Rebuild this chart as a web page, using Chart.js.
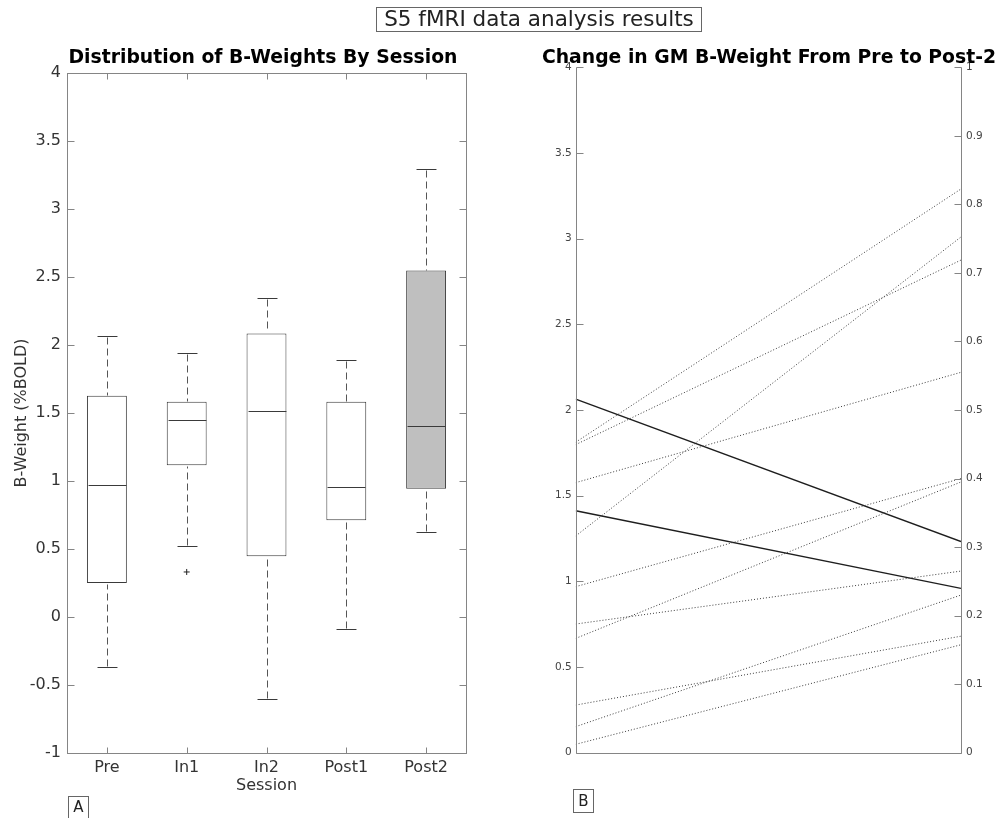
<!DOCTYPE html>
<html>
<head>
<meta charset="utf-8">
<title>S5 fMRI data analysis results</title>
<script src="https://cdn.jsdelivr.net/npm/chart.js@4/dist/chart.umd.min.js"></script>
<style>
  html, body { margin: 0; padding: 0; background: #fff; }
  #page { position: relative; width: 1000px; height: 818px; overflow: hidden; background: #fff;
          font-family: 'DejaVu Sans', sans-serif; color: #1a1a1a; }
  canvas { position: absolute; top: 0; }
  .suptitle { position: absolute; left: 376px; top: 7px; width: 326px; height: 25px; box-sizing: border-box;
              border: 1px solid #666; font-size: 21.5px; line-height: 22px; padding-top: 0px; text-align: center;
              white-space: nowrap; color: #222; }
  .ptitle { position: absolute; top: 46px; width: 600px; font-size: 18.8px; line-height: 22px; font-weight: bold;
            text-align: center; white-space: nowrap; color: #000; }
  .tag { position: absolute; width: 21px; height: 23px; box-sizing: border-box; border: 1px solid #666;
         font-size: 15px; line-height: 21px; text-align: center; color: #222; }
</style>
</head>
<body>
<div id="page">
  <canvas id="boxChart" width="480" height="818" style="left:0"></canvas>
  <canvas id="lineChart" width="500" height="818" style="left:500px"></canvas>
  <div class="suptitle">S5 fMRI data analysis results</div>
  <div class="ptitle" style="left:-37px">Distribution of B-Weights By Session</div>
  <div class="ptitle" style="left:469px">Change in GM B-Weight From Pre to Post-2</div>
  <div class="tag" style="left:68px; top:796px">A</div>
  <div class="tag" style="left:573px; top:789px; height:24px; line-height:22px">B</div>
</div>
<script>
// ---- Panel A: box summary of B-weights per session ----
const sessions     = ['Pre', 'In1', 'In2', 'Post1', 'Post2'];
const lowerWhisker = [-0.364, 0.521, -0.603, -0.088, 0.624];
const quartile1    = [0.250, 1.116, 0.447, 0.712, 0.943];
const medians      = [0.967, 1.447, 1.518, 0.955, 1.406];
const quartile3    = [1.627, 1.582, 2.085, 1.582, 2.547];
const upperWhisker = [2.066, 1.938, 2.346, 1.891, 3.296];
const outliers     = [null, 0.331, null, null, null];
const boxTicks     = [-1, -0.5, 0, 0.5, 1, 1.5, 2, 2.5, 3, 3.5, 4];

// ---- Panel B: GM B-weight per subject, Pre vs Post-2 ----
const gmPre        = [2.064, 1.412];
const gmPost2      = [1.232, 0.959];
const otherPre     = [1.812, 1.798, 1.265, 1.576, 0.969, 0.667, 0.751, 0.152, 0.278, 0.049];
const otherPost2   = [3.290, 2.875, 3.010, 2.220, 1.600, 1.580, 1.060, 0.920, 0.680, 0.630];
const leftTicks    = [0, 0.5, 1, 1.5, 2, 2.5, 3, 3.5, 4];
const rightTicks   = [0, 0.1, 0.2, 0.3, 0.4, 0.5, 0.6, 0.7, 0.8, 0.9, 1];

Chart.defaults.font.family = "'DejaVu Sans', sans-serif";
Chart.defaults.animation = false;

const AXIS_COLOR = '#858585';
const TICK_LEN = 7;

function seg(ctx, x1, y1, x2, y2) {
  ctx.beginPath();
  ctx.moveTo(x1, y1);
  ctx.lineTo(x2, y2);
  ctx.stroke();
}
const px = v => Math.round(v) + 0.5;

// whiskers, caps and medians drawn on top of the floating bars
const boxParts = {
  id: 'boxParts',
  afterDatasetsDraw(chart) {
    const { ctx, scales: { x, y } } = chart;
    const bars = chart.getDatasetMeta(0).data;
    ctx.save();
    ctx.lineWidth = 1;
    sessions.forEach((s, i) => {
      const cx = px(x.getPixelForValue(i));
      const half = bars[i].width / 2;
      const cap = half / 2;
      const yLo = px(y.getPixelForValue(lowerWhisker[i]));
      const yQ1 = px(y.getPixelForValue(quartile1[i]));
      const yQ3 = px(y.getPixelForValue(quartile3[i]));
      const yHi = px(y.getPixelForValue(upperWhisker[i]));
      const yMd = px(y.getPixelForValue(medians[i]));
      ctx.strokeStyle = '#555';
      ctx.setLineDash([7, 4]);
      seg(ctx, cx, yHi + 1, cx, yQ3 - 1);
      seg(ctx, cx, yLo - 1, cx, yQ1 + 1);
      ctx.setLineDash([]);
      ctx.strokeStyle = '#3a3a3a';
      seg(ctx, cx - cap, yHi, cx + cap, yHi);
      seg(ctx, cx - cap, yLo, cx + cap, yLo);
      seg(ctx, cx - half + 1, yMd, cx + half - 1, yMd);
    });
    ctx.restore();
  }
};

// full box frame with inward ticks on every side
const boxFrame = {
  id: 'boxFrame',
  afterDraw(chart) {
    const { ctx, chartArea: a, scales: { x, y } } = chart;
    ctx.save();
    ctx.strokeStyle = AXIS_COLOR;
    ctx.lineWidth = 1;
    const L = px(a.left), R = px(a.right), T = px(a.top), B = px(a.bottom);
    ctx.strokeRect(L, T, R - L, B - T);
    boxTicks.forEach(v => {
      const yy = px(y.getPixelForValue(v));
      seg(ctx, L, yy, L + TICK_LEN, yy);
      seg(ctx, R, yy, R - TICK_LEN, yy);
    });
    sessions.forEach((s, i) => {
      const xx = px(x.getPixelForValue(i));
      seg(ctx, xx, B, xx, B - 6);
      seg(ctx, xx, T, xx, T + 6);
    });
    ctx.restore();
  }
};

new Chart(document.getElementById('boxChart'), {
  type: 'bar',
  data: {
    labels: sessions,
    datasets: [{
      type: 'bar',
      data: sessions.map((s, i) => [quartile1[i], quartile3[i]]),
      backgroundColor: sessions.map(s => s === 'Post2' ? '#bfbfbf' : '#ffffff'),
      borderColor: '#3a3a3a',
      borderWidth: 1,
      borderSkipped: false,
      barPercentage: 0.5,
      categoryPercentage: 1
    }, {
      type: 'line',
      data: outliers,
      showLine: false,
      pointStyle: 'cross',
      pointRadius: 3,
      borderColor: '#222',
      borderWidth: 1
    }]
  },
  options: {
    responsive: false,
    devicePixelRatio: 1,
    layout: { padding: { left: 0, right: 14, top: 73, bottom: 0 } },
    plugins: { legend: { display: false }, tooltip: { enabled: false } },
    scales: {
      x: {
        type: 'category',
        offset: true,
        grid: { display: false, drawTicks: false },
        border: { display: false },
        ticks: { color: '#333', font: { size: 16 }, padding: 5 },
        title: { display: true, text: 'Session', color: '#333', font: { size: 16 }, padding: { top: 0, bottom: 23 } },
        afterFit: s => { s.height = 65; }
      },
      y: {
        min: -1, max: 4,
        afterBuildTicks: s => { s.ticks = boxTicks.map(v => ({ value: v })); },
        grid: { display: false, drawTicks: false },
        border: { display: false },
        ticks: { color: '#333', font: { size: 16 }, padding: 6, callback: v => String(v) },
        title: { display: true, text: 'B-Weight (%BOLD)', color: '#333', font: { size: 16 }, padding: { top: 12, bottom: 0 } },
        afterFit: s => { s.width = 67; }
      }
    }
  },
  plugins: [boxParts, boxFrame]
});

// open frame: left, right and bottom lines, inward ticks on both y axes
const lineFrame = {
  id: 'lineFrame',
  afterDraw(chart) {
    const { ctx, chartArea: a, scales: { y, y2 } } = chart;
    ctx.save();
    ctx.strokeStyle = AXIS_COLOR;
    ctx.lineWidth = 1;
    const L = px(a.left), R = px(a.right), T = px(a.top), B = px(a.bottom);
    seg(ctx, L, T, L, B);
    seg(ctx, R, T, R, B);
    seg(ctx, L, B, R, B);
    leftTicks.forEach(v => {
      const yy = px(y.getPixelForValue(v));
      seg(ctx, L, yy, L + TICK_LEN, yy);
    });
    rightTicks.forEach(v => {
      const yy = px(y2.getPixelForValue(v));
      seg(ctx, R, yy, R - TICK_LEN, yy);
    });
    ctx.restore();
  }
};

const pairDataset = (a, b, solid) => ({
  data: [{ x: 0, y: a }, { x: 1, y: b }],
  borderColor: solid ? '#1e1e1e' : '#3c3c3c',
  borderWidth: solid ? 1.4 : 1,
  borderDash: solid ? [] : [1, 2],
  pointRadius: 0,
  fill: false,
  tension: 0,
  yAxisID: 'y'
});

const lineSets = [];
otherPre.forEach((v, i) => lineSets.push(pairDataset(v, otherPost2[i], false)));
gmPre.forEach((v, i) => lineSets.push(pairDataset(v, gmPost2[i], true)));

new Chart(document.getElementById('lineChart'), {
  type: 'line',
  data: { datasets: lineSets },
  options: {
    responsive: false,
    devicePixelRatio: 1,
    layout: { padding: { left: 0, right: 0, top: 67.3, bottom: 0 } },
    plugins: { legend: { display: false }, tooltip: { enabled: false } },
    scales: {
      x: {
        type: 'linear', min: 0, max: 1,
        grid: { display: false, drawTicks: false },
        border: { display: false },
        ticks: { display: false },
        afterFit: s => { s.height = 65.3; }
      },
      y: {
        position: 'left', min: 0, max: 4,
        afterBuildTicks: s => { s.ticks = leftTicks.map(v => ({ value: v })); },
        grid: { display: false, drawTicks: false },
        border: { display: false },
        ticks: { color: '#444', font: { size: 10.5 }, padding: 4, callback: v => String(v) },
        afterFit: s => { s.width = 75.7; }
      },
      y2: {
        position: 'right', display: true, min: 0, max: 1,
        afterBuildTicks: s => { s.ticks = rightTicks.map(v => ({ value: v })); },
        grid: { display: false, drawTicks: false },
        border: { display: false },
        ticks: { color: '#444', font: { size: 10.5 }, padding: 5, callback: v => String(v) },
        afterFit: s => { s.width = 39; }
      }
    }
  },
  plugins: [lineFrame]
});
</script>
</body>
</html>
